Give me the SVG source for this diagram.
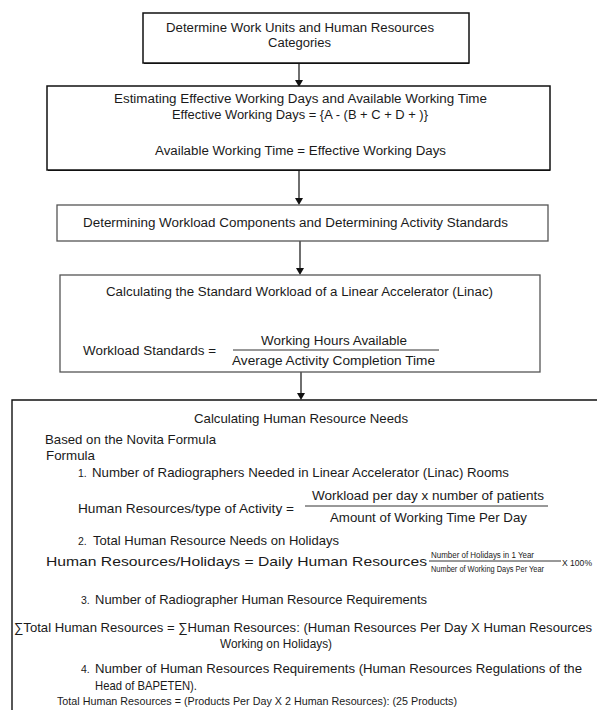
<svg xmlns="http://www.w3.org/2000/svg" width="597" height="710" viewBox="0 0 597 710">
<defs>
<style>
.t{font-family:"Liberation Sans","DejaVu Sans",Arial,sans-serif;font-size:12.5px;fill:#1a1a1a}
.u{font-family:"Liberation Sans","DejaVu Sans",Arial,sans-serif;font-size:13px;fill:#1a1a1a}
.s{font-family:"Liberation Sans","DejaVu Sans",Arial,sans-serif;font-size:10.5px;fill:#1a1a1a}
.f{font-family:"Liberation Sans","DejaVu Sans",Arial,sans-serif;font-size:8.5px;fill:#1a1a1a}
.bx{fill:#fff;stroke:#111;stroke-width:1.5}
.bg{fill:#fff;stroke:#555;stroke-width:1.3}
.fl{stroke:#333;stroke-width:1}
.cn{stroke:#222;stroke-width:1.3;fill:none}
.ah{fill:#111}
</style>
</defs>
<rect width="597" height="710" fill="#fff"/>

<g id="connectors">
<path class="cn" d="M299,63 V80"/>
<path class="ah" d="M295,80 L303,80 L299,87 Z"/>
<path class="cn" d="M299,170 V198"/>
<path class="ah" d="M295,198 L303,198 L299,205 Z"/>
<path class="cn" d="M300,241 V268"/>
<path class="ah" d="M296,268 L304,268 L300,275 Z"/>
<path class="cn" d="M301,372 V393"/>
<path class="ah" d="M297,393 L305,393 L301,400 Z"/>
</g>

<g id="n1">
<rect class="bx" x="143" y="13" width="326" height="50"/>
<line x1="144" y1="63.5" x2="469" y2="63.5" stroke="#111" stroke-width="1.2"/>
<text class="t" x="166" y="32" textLength="268" lengthAdjust="spacingAndGlyphs">Determine Work Units and Human Resources</text>
<text class="t" x="268" y="47" textLength="63" lengthAdjust="spacingAndGlyphs">Categories</text>
</g>

<g id="n2">
<rect class="bx" x="47" y="86" width="503" height="84"/>
<line x1="48" y1="170.5" x2="550" y2="170.5" stroke="#111" stroke-width="1.2"/>
<text class="t" x="114" y="103" textLength="373" lengthAdjust="spacingAndGlyphs">Estimating Effective Working Days and Available Working Time</text>
<text class="t" x="172" y="119" textLength="256" lengthAdjust="spacingAndGlyphs">Effective Working Days = {A - (B + C + D + )}</text>
<text class="t" x="155" y="155" textLength="291" lengthAdjust="spacingAndGlyphs">Available Working Time = Effective Working Days</text>
</g>

<g id="n3">
<rect class="bg" x="57" y="205" width="491" height="36"/>
<text class="t" x="83" y="227" textLength="425" lengthAdjust="spacingAndGlyphs">Determining Workload Components and Determining Activity Standards</text>
</g>

<g id="n4">
<rect class="bg" x="60" y="275" width="480" height="97"/>
<text class="t" x="106" y="296" textLength="387" lengthAdjust="spacingAndGlyphs">Calculating the Standard Workload of a Linear Accelerator (Linac)</text>
<text class="t" x="83" y="355" textLength="133" lengthAdjust="spacingAndGlyphs">Workload Standards =</text>
<text class="t" x="261" y="345" textLength="146" lengthAdjust="spacingAndGlyphs">Working Hours Available</text>
<line class="fl" x1="233" y1="350" x2="439" y2="350"/>
<text class="t" x="232" y="365" textLength="203" lengthAdjust="spacingAndGlyphs">Average Activity Completion Time</text>
</g>

<g id="n5">
<path d="M12,710 V400 H597" fill="none" stroke="#111" stroke-width="1.4"/>
<text class="u" x="194" y="423" textLength="214" lengthAdjust="spacingAndGlyphs">Calculating Human Resource Needs</text>
<text class="u" x="45" y="444" textLength="171" lengthAdjust="spacingAndGlyphs">Based on the Novita Formula</text>
<text class="u" x="46" y="460" textLength="49" lengthAdjust="spacingAndGlyphs">Formula</text>
<text class="s" x="78" y="477">1.</text>
<text class="u" x="92" y="477" textLength="417" lengthAdjust="spacingAndGlyphs">Number of Radiographers Needed in Linear Accelerator (Linac) Rooms</text>
<text class="u" x="78" y="513" textLength="216" lengthAdjust="spacingAndGlyphs">Human Resources/type of Activity =</text>
<text class="u" x="312" y="500" textLength="232" lengthAdjust="spacingAndGlyphs">Workload per day x number of patients</text>
<line class="fl" x1="305" y1="506" x2="548" y2="506"/>
<text class="u" x="330" y="522" textLength="197" lengthAdjust="spacingAndGlyphs">Amount of Working Time Per Day</text>
<text class="s" x="78" y="545">2.</text>
<text class="u" x="93" y="545" textLength="246" lengthAdjust="spacingAndGlyphs">Total Human Resource Needs on Holidays</text>
<text class="u" x="46" y="566" style="font-size:13.5px" textLength="381" lengthAdjust="spacingAndGlyphs">Human Resources/Holidays = Daily Human Resources</text>
<text class="f" x="431" y="558" textLength="103" lengthAdjust="spacingAndGlyphs">Number of Holidays in 1 Year</text>
<line class="fl" x1="429" y1="561" x2="561" y2="561"/>
<text class="f" x="431" y="572" textLength="113" lengthAdjust="spacingAndGlyphs">Number of Working Days Per Year</text>
<text class="s" x="562" y="566" style="font-size:9px" textLength="30" lengthAdjust="spacingAndGlyphs">X 100%</text>
<text class="s" x="81" y="604">3.</text>
<text class="u" x="95" y="604" textLength="332" lengthAdjust="spacingAndGlyphs">Number of Radiographer Human Resource Requirements</text>
<text class="u" x="14" y="632" textLength="578" lengthAdjust="spacingAndGlyphs">∑Total Human Resources = ∑Human Resources: (Human Resources Per Day X Human Resources</text>
<text class="u" x="220" y="648" textLength="112" lengthAdjust="spacingAndGlyphs">Working on Holidays)</text>
<text class="s" x="81" y="673">4.</text>
<text class="u" x="95" y="673" textLength="487" lengthAdjust="spacingAndGlyphs">Number of Human Resources Requirements (Human Resources Regulations of the</text>
<text class="u" x="95" y="690" textLength="102" lengthAdjust="spacingAndGlyphs">Head of BAPETEN).</text>
<text class="u" x="57" y="705" style="font-size:11.5px" textLength="400" lengthAdjust="spacingAndGlyphs">Total Human Resources = (Products Per Day X 2 Human Resources): (25 Products)</text>
</g>
</svg>
